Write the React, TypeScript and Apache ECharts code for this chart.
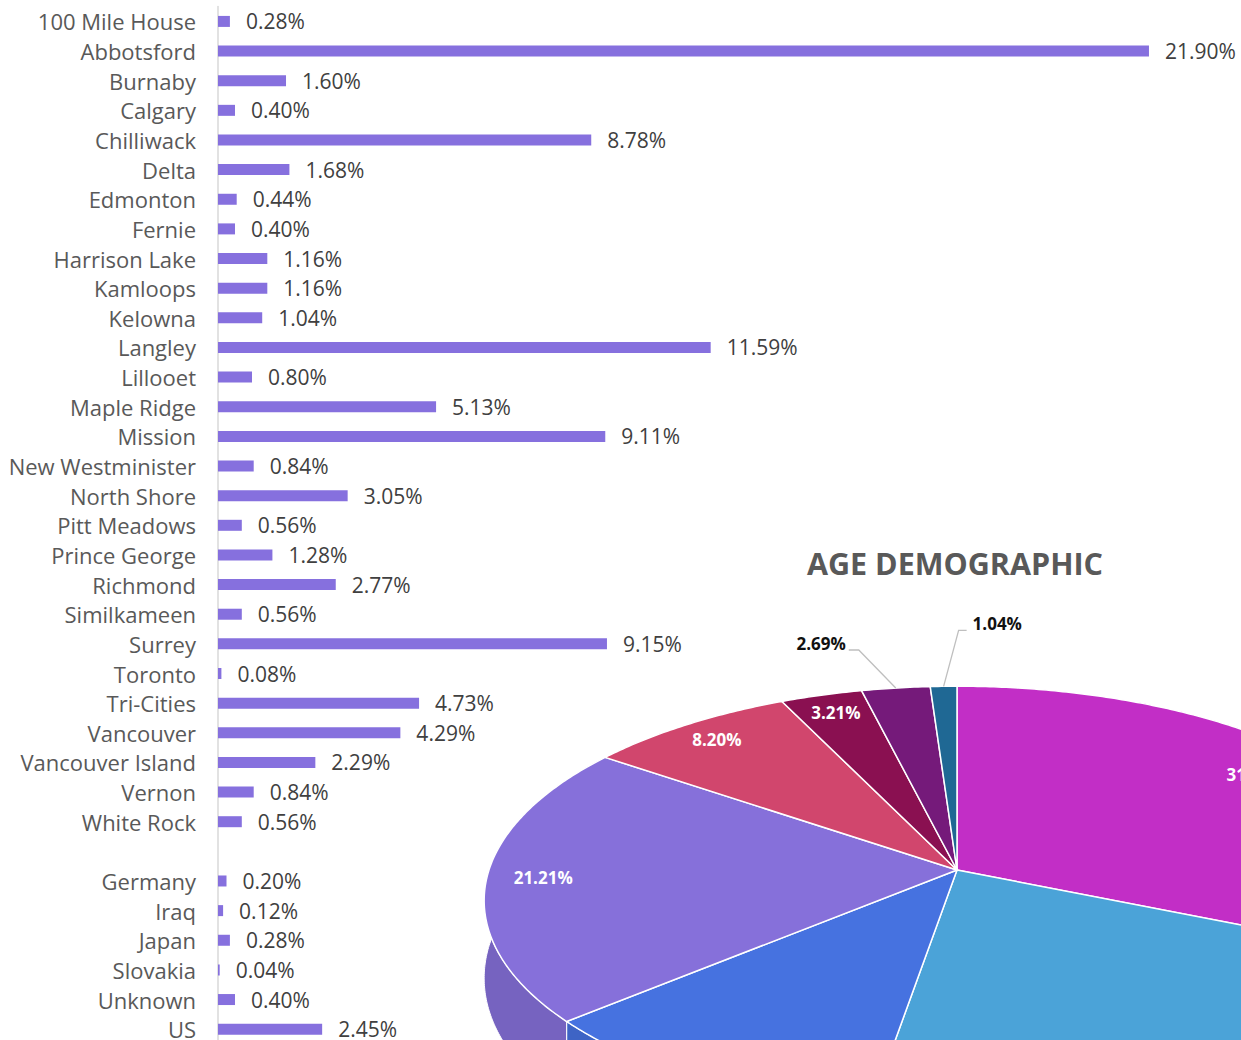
import React, { useEffect, useRef } from "react";
import * as echarts from "echarts";

// ---------- data ----------
const cityNames = [
  "100 Mile House", "Abbotsford", "Burnaby", "Calgary", "Chilliwack", "Delta",
  "Edmonton", "Fernie", "Harrison Lake", "Kamloops", "Kelowna", "Langley",
  "Lillooet", "Maple Ridge", "Mission", "New Westminister", "North Shore",
  "Pitt Meadows", "Prince George", "Richmond", "Similkameen", "Surrey",
  "Toronto", "Tri-Cities", "Vancouver", "Vancouver Island", "Vernon", "White Rock",
];
const cityShares = [
  0.28, 21.9, 1.6, 0.4, 8.78, 1.68,
  0.44, 0.4, 1.16, 1.16, 1.04, 11.59,
  0.8, 5.13, 9.11, 0.84, 3.05,
  0.56, 1.28, 2.77, 0.56, 9.15,
  0.08, 4.73, 4.29, 2.29, 0.84, 0.56,
];
const countryNames = ["Germany", "Iraq", "Japan", "Slovakia", "Unknown", "US"];
const countryShares = [0.2, 0.12, 0.28, 0.04, 0.4, 2.45];

const categories = [...cityNames, "", ...countryNames];
const shares: (number | null)[] = [...cityShares, null, ...countryShares];

const ageTitle = "AGE DEMOGRAPHIC";
const agePercents = [31.49, 21.08, 11.08, 21.21, 8.2, 3.21, 2.69, 1.04];
const ageColors = ["#C22EC6", "#4BA3D8", "#4672E0", "#8670DA", "#D1466D", "#8A1051", "#751A7A", "#1F6894"];

// ---------- pie geometry (tilted / perspective) ----------
const PIE_CX = 957;
const PIE_CY = 870;
const RX = 468;
const RY = 210;
const PERSP = 0.1426;
const DEPTH = 76;
const LABEL_F = 0.88;
// outside-label leader geometry for small slices (relative to arc midpoint)
const OUTSIDE: Record<number, { elbow: [number, number]; tail: number }> = {
  6: { elbow: [-37, -38], tail: -10 },
  7: { elbow: [15, -56], tail: 8 },
};

const total = agePercents.reduce((a, b) => a + b, 0);
function angles(i: number): [number, number] {
  let s = 0;
  for (let k = 0; k < i; k++) s += agePercents[k];
  return [(s / total) * Math.PI * 2, ((s + agePercents[i]) / total) * Math.PI * 2];
}
function proj(t: number, f: number, drop = 0): [number, number] {
  const u = f * Math.sin(t);
  const v = f * Math.cos(t);
  const w = 1 + PERSP * v;
  return [PIE_CX + (RX * u) / w, PIE_CY - (RY * v) / w + drop / w];
}
function arc(t0: number, t1: number, drop = 0): [number, number][] {
  const n = Math.max(2, Math.ceil(Math.abs(t1 - t0) / 0.01));
  const pts: [number, number][] = [];
  for (let k = 0; k <= n; k++) pts.push(proj(t0 + ((t1 - t0) * k) / n, 1, drop));
  return pts;
}
function shade(hex: string, k: number) {
  const n = parseInt(hex.slice(1), 16);
  const r = Math.round(((n >> 16) & 255) * k);
  const g = Math.round(((n >> 8) & 255) * k);
  const b = Math.round((n & 255) * k);
  return `rgb(${r},${g},${b})`;
}

export default function App() {
  const ref = useRef<HTMLDivElement>(null);
  useEffect(() => {
    document.body.style.margin = "0";
    const chart = echarts.init(ref.current!, null, { renderer: "svg" });
    const font = "'Open Sans', 'Noto Sans', sans-serif";
    chart.setOption({
      animation: false,
      backgroundColor: "#ffffff",
      grid: { left: 218, top: 6.6, width: 24 * 42.51, height: 35 * 29.64, containLabel: false },
      xAxis: { type: "value", min: 0, max: 24, show: false, splitLine: { show: false } },
      yAxis: {
        type: "category",
        inverse: true,
        data: categories,
        axisLine: { show: true, lineStyle: { color: "#d9d9d9", width: 1.5 } },
        axisTick: { show: false },
        axisLabel: { fontSize: 22, color: "#595959", margin: 22, fontFamily: font },
      },
      graphic: [
        {
          type: "text",
          style: {
            text: ageTitle,
            x: 955,
            y: 563,
            align: "center",
            verticalAlign: "middle",
            fontSize: 30.5,
            fontWeight: "bold",
            fill: "#595959",
            fontFamily: font,
          },
        },
      ],
      series: [
        {
          type: "bar",
          data: shares,
          barWidth: 11,
          itemStyle: { color: "#8670DE" },
          label: {
            show: true,
            position: "right",
            distance: 16,
            fontSize: 21,
            color: "#404040",
            fontFamily: font,
            formatter: (p: any) => (p.value == null ? "" : Number(p.value).toFixed(2) + "%"),
          },
        },
        {
          type: "custom",
          coordinateSystem: "none",
          data: agePercents,
          z: 3,
          renderItem: (params: any) => {
            const i = params.dataIndex;
            const [t0, t1] = angles(i);
            const top = arc(t0, t1);
            const bottom = arc(t1, t0, DEPTH);
            return {
              type: "polygon",
              shape: { points: [...top, ...bottom] },
              style: { fill: shade(ageColors[i], 0.88), stroke: "#ffffff", lineWidth: 1 },
            };
          },
        },
        {
          type: "custom",
          coordinateSystem: "none",
          data: agePercents,
          z: 4,
          renderItem: (params: any) => {
            const i = params.dataIndex;
            const [t0, t1] = angles(i);
            return {
              type: "polygon",
              shape: { points: [[PIE_CX, PIE_CY], ...arc(t0, t1)] },
              style: { fill: ageColors[i], stroke: "#ffffff", lineWidth: 1.5, lineJoin: "round" },
            };
          },
        },
        {
          type: "custom",
          coordinateSystem: "none",
          data: agePercents,
          z: 5,
          renderItem: (params: any, api: any) => {
            const i = params.dataIndex;
            const value = api.value(0);
            const [t0, t1] = angles(i);
            const mid = (t0 + t1) / 2;
            const text = Number(value).toFixed(2) + "%";
            const out = OUTSIDE[i];
            if (!out) {
              let [x, y] = proj(mid, LABEL_F);
              x = Math.min(x, 1256);
              return {
                type: "text",
                style: {
                  text,
                  x,
                  y: y - 1,
                  align: "center",
                  verticalAlign: "middle",
                  fontSize: 17,
                  fontWeight: "bold",
                  fill: "#ffffff",
                  fontFamily: font,
                },
              };
            }
            const [ax, ay] = proj(mid, 1);
            const ex = ax + out.elbow[0];
            const ey = ay + out.elbow[1];
            const tx = ex + out.tail;
            const left = out.tail < 0;
            return {
              type: "group",
              children: [
                {
                  type: "polyline",
                  shape: { points: [[ax, ay], [ex, ey], [tx, ey]] },
                  style: { stroke: "#bfbfbf", lineWidth: 1.3, fill: "none" },
                },
                {
                  type: "text",
                  style: {
                    text,
                    x: tx + (left ? -3 : 6),
                    y: ey - 7,
                    align: left ? "right" : "left",
                    verticalAlign: "middle",
                    fontSize: 17,
                    fontWeight: "bold",
                    fill: "#111111",
                    fontFamily: font,
                  },
                },
              ],
            };
          },
        },
      ],
    });
    return () => chart.dispose();
  }, []);
  return (
    <div style={{ width: 1241, height: 1040, overflow: "hidden" }}>
      <div ref={ref} style={{ width: 1241, height: 1060 }} />
    </div>
  );
}
